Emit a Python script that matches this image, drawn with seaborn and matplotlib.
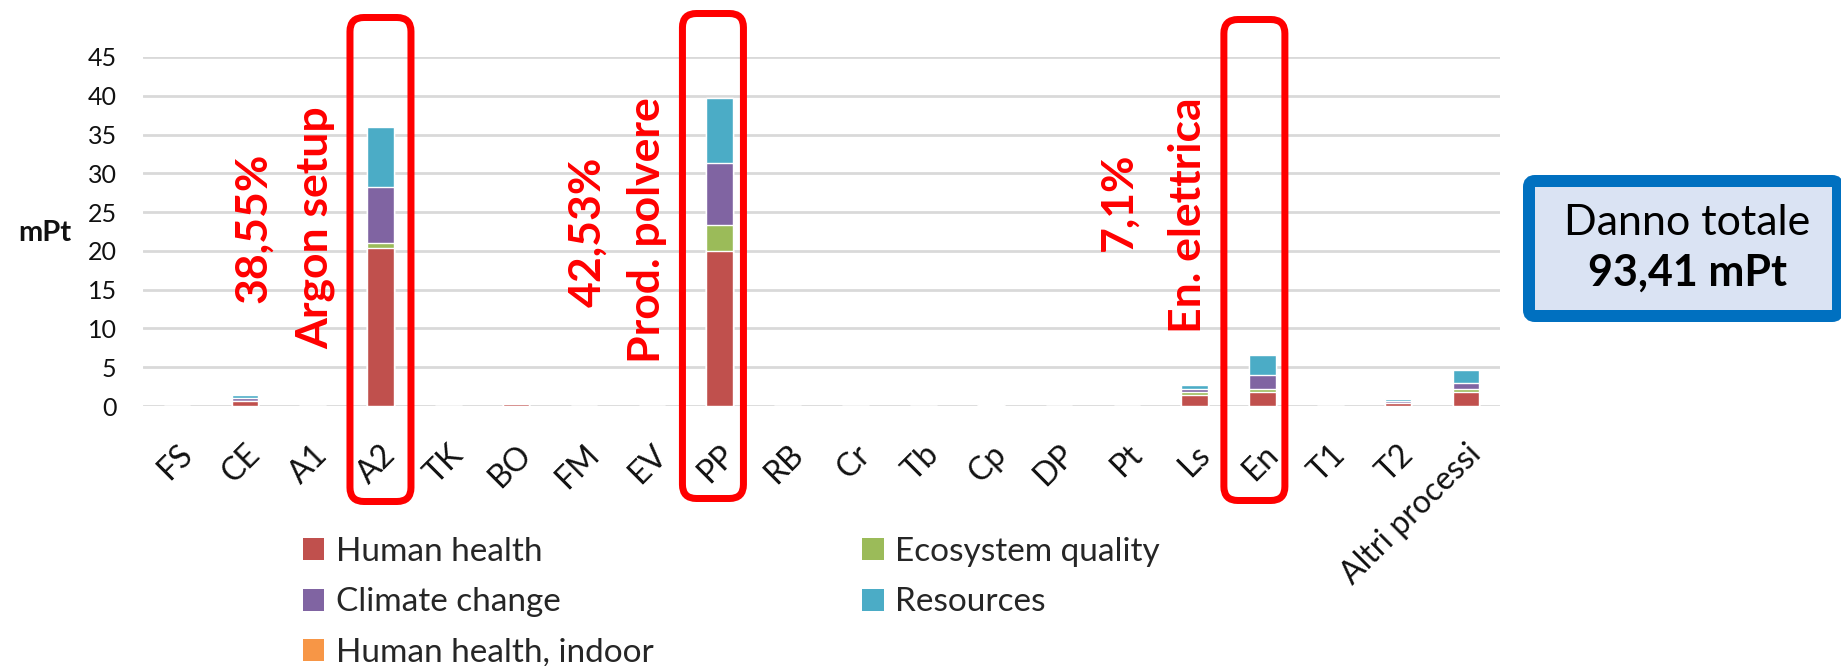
import numpy as np
import pandas as pd
import matplotlib
matplotlib.use("Agg")
import matplotlib.pyplot as plt
from matplotlib.patches import FancyBboxPatch, Patch
from matplotlib.transforms import IdentityTransform
import seaborn as sns

# data (mPt)
categories = ["FS", "CE", "A1", "A2", "TK", "BO", "FM", "EV", "PP", "RB",
              "Cr", "Tb", "Cp", "DP", "Pt", "Ls", "En", "T1", "T2", "Altri processi"]
human_health = [0, 0.65, 0, 20.4, 0, 0.25, 0, 0, 20.0, 0, 0, 0, 0.15, 0, 0, 1.45, 1.8, 0, 0.35, 1.8]
ecosystem_quality = [0, 0.05, 0, 0.65, 0, 0.03, 0, 0, 3.3, 0, 0, 0, 0.02, 0, 0, 0.35, 0.35, 0, 0.1, 0.35]
climate_change = [0, 0.3, 0, 7.25, 0, 0.1, 0, 0, 8.0, 0, 0, 0, 0.06, 0, 0, 0.35, 1.8, 0, 0.25, 0.85]
resources = [0, 0.4, 0, 7.7, 0, 0.2, 0, 0, 8.35, 0, 0, 0, 0.07, 0, 0, 0.6, 2.65, 0, 0.25, 1.6]
hh_indoor = [0, 0, 0, 0.02, 0, 0, 0, 0, 0.1, 0, 0, 0, 0, 0, 0, 0, 0, 0, 0, 0]

series_names = ["Human health", "Ecosystem quality", "Climate change", "Resources", "Human health, indoor"]
colors = ["#C0504D", "#9BBB59", "#8064A2", "#4BACC6", "#F79646"]

highlights = [("38,55%", "Argon setup"), ("42,53%", "Prod. polvere"), ("7,1%", "En. elettrica")]
total_label = "93,41 mPt"

W, H = 1841, 666
sns.set_theme(style="white")
plt.rcParams["font.family"] = ["Lato", "DejaVu Sans"]

fig = plt.figure(figsize=(W / 100, H / 100), dpi=100)
ax = fig.add_axes([143 / W, 1 - 406 / H, (1500 - 143) / W, (406 - 57) / H])

df = pd.DataFrame({"cat": categories, "hh": human_health, "eq": ecosystem_quality,
                   "cc": climate_change, "res": resources, "ind": hh_indoor})
layers = [df["hh"], df["eq"], df["cc"], df["res"], df["ind"]]
cum = np.cumsum(np.vstack(layers), axis=0)

# draw cumulative totals from top layer down so each lower layer covers the rest
for i in range(len(layers) - 1, -1, -1):
    sns.barplot(x=df["cat"], y=cum[i], color=colors[i], width=0.39,
                saturation=1, ax=ax, zorder=3)

ax.set_ylim(0, 45)
ax.set_xlim(-0.5, len(categories) - 0.5)
ax.set_yticks(range(0, 50, 5))
ax.yaxis.grid(True, color="#D9D9D9", linewidth=2, zorder=0)
ax.set_axisbelow(True)
for s in ax.spines.values():
    s.set_visible(False)
ax.set_xlabel("")
ax.set_ylabel("")
ax.tick_params(axis="y", length=0, pad=19, labelsize=18, labelcolor="#111111")
ax.tick_params(axis="x", length=0, pad=24, labelsize=23, labelcolor="#111111")
plt.setp(ax.get_xticklabels(), rotation=45, ha="right", rotation_mode="anchor")

fig.text(45 / W, 1 - 233 / H, "mPt", fontsize=21, fontweight="bold",
         ha="center", va="center", color="#111111")

# red rounded boxes around the main contributors
boxes = [(3.0, 14, 505), (7.9, 10, 502), (15.88, 16, 504)]
for xc, top, bot in boxes:
    px = ax.transData.transform((xc, 0))[0]
    lw_px = 7
    bw = 68 - lw_px
    fig.add_artist(FancyBboxPatch((px - bw / 2, H - bot + lw_px / 2), bw, (bot - top) - lw_px,
                                  boxstyle="round,pad=0,rounding_size=14",
                                  linewidth=lw_px * 0.72, edgecolor="#FF0000",
                                  facecolor="none", transform=IdentityTransform(), zorder=5))

# red rotated annotations
text_pos = [((253, 228), (315, 228)), ((587, 232), (647, 230)), ((1119, 202), (1188, 215))]
for (pct, name), ((x1, y1), (x2, y2)) in zip(highlights, text_pos):
    fig.text(x1 / W, 1 - y1 / H, pct, rotation=90, fontsize=32, fontweight="bold",
             color="#FF0000", ha="center", va="center")
    fig.text(x2 / W, 1 - y2 / H, name, rotation=90, fontsize=32, fontweight="bold",
             color="#FF0000", ha="center", va="center")

# total damage box
fig.add_artist(FancyBboxPatch((1529, H - 316), 1838 - 1529, 316 - 181,
                              boxstyle="round,pad=0,rounding_size=6",
                              linewidth=12 * 0.72, edgecolor="#0070C0",
                              facecolor="#DAE3F3", transform=IdentityTransform(), zorder=5))
fig.text(1687 / W, 1 - 223 / H, "Danno totale", fontsize=31, ha="center", va="center",
         color="black", zorder=6)
fig.text(1687 / W, 1 - 273 / H, total_label, fontsize=31, fontweight="bold",
         ha="center", va="center", color="black", zorder=6)

# legend (column-major order gives the row layout of the original)
order = [0, 2, 4, 1, 3]
handles = [Patch(facecolor=colors[i], edgecolor="none") for i in order]
labels = [series_names[i] for i in order]
fig.legend(handles, labels, loc="upper left", bbox_to_anchor=(286 / W, 1 - 520 / H),
           ncol=2, frameon=False, fontsize=24, handlelength=0.65, handleheight=0.65,
           handletextpad=0.35, labelspacing=0.62, columnspacing=6.25, borderpad=0)

fig.savefig("out.png", dpi=100)
